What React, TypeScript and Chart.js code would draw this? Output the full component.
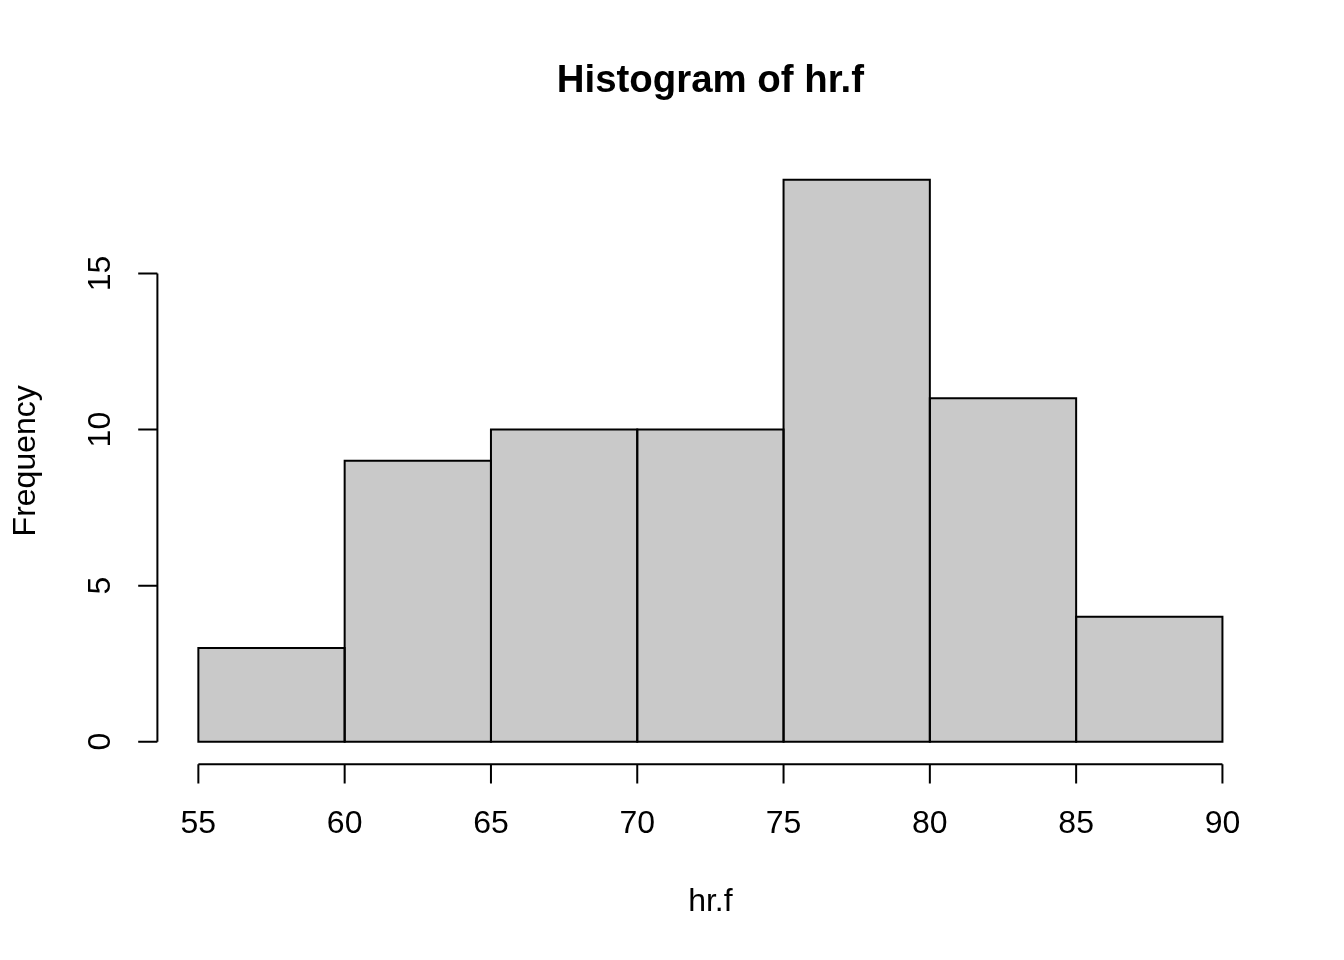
import React, { useEffect, useRef } from "react";
import { Chart, registerables } from "chart.js";

Chart.register(...registerables);

const binEdges: number[] = [55, 60, 65, 70, 75, 80, 85, 90];
const counts: number[] = [3, 9, 10, 10, 18, 11, 4];
const xTicks: number[] = [55, 60, 65, 70, 75, 80, 85, 90];
const yTicks: number[] = [0, 5, 10, 15];
const titleText = "Histogram of hr.f";
const xLabel = "hr.f";
const yLabel = "Frequency";

const FONT = '"Liberation Sans", Arial, Helvetica, sans-serif';

export default function App() {
  const ref = useRef<HTMLCanvasElement | null>(null);

  useEffect(() => {
    const canvas = ref.current;
    if (!canvas) return;

    const points = counts.map((c, i) => ({ x: (binEdges[i] + binEdges[i + 1]) / 2, y: c }));
    const xMin = binEdges[0];
    const xMax = binEdges[binEdges.length - 1];
    const xPad = (xMax - xMin) * 0.04;
    const yMaxData = Math.max(...counts);
    const yPad = yMaxData * 0.04;

    const rPlugin = {
      id: "rstyle",
      afterDatasetsDraw(chart: any) {
        const ctx = chart.ctx as CanvasRenderingContext2D;
        const xs = chart.scales.x;
        const ys = chart.scales.y;
        const area = chart.chartArea;
        ctx.save();
        ctx.strokeStyle = "#000";
        ctx.lineWidth = 2;
        // bar outlines
        const meta = chart.getDatasetMeta(0);
        meta.data.forEach((el: any) => {
          const half = el.width / 2;
          const l = el.x - half;
          const r = el.x + half;
          const top = el.y;
          const base = el.base;
          ctx.beginPath();
          ctx.rect(l, top, r - l, base - top);
          ctx.stroke();
        });
        // x axis
        const axY = area.bottom;
        const tickLen = 19.2;
        ctx.beginPath();
        ctx.moveTo(xs.getPixelForValue(xTicks[0]), axY);
        ctx.lineTo(xs.getPixelForValue(xTicks[xTicks.length - 1]), axY);
        xTicks.forEach((t) => {
          const px = xs.getPixelForValue(t);
          ctx.moveTo(px, axY);
          ctx.lineTo(px, axY + tickLen);
        });
        ctx.stroke();
        // y axis
        const axX = area.left;
        ctx.beginPath();
        ctx.moveTo(axX, ys.getPixelForValue(yTicks[0]));
        ctx.lineTo(axX, ys.getPixelForValue(yTicks[yTicks.length - 1]));
        yTicks.forEach((t) => {
          const py = ys.getPixelForValue(t);
          ctx.moveTo(axX, py);
          ctx.lineTo(axX - tickLen, py);
        });
        ctx.stroke();

        ctx.fillStyle = "#000";
        ctx.font = `32px ${FONT}`;
        ctx.textAlign = "center";
        ctx.textBaseline = "alphabetic";
        xTicks.forEach((t) => {
          ctx.fillText(String(t), xs.getPixelForValue(t), 833);
        });
        yTicks.forEach((t) => {
          const py = ys.getPixelForValue(t);
          ctx.save();
          ctx.translate(110, py);
          ctx.rotate(-Math.PI / 2);
          ctx.fillText(String(t), 0, 0);
          ctx.restore();
        });
        // axis titles
        const cx = (area.left + area.right) / 2;
        const cy = (area.top + area.bottom) / 2;
        ctx.fillText(xLabel, cx, 911);
        ctx.save();
        ctx.translate(35, cy);
        ctx.rotate(-Math.PI / 2);
        ctx.fillText(yLabel, 0, 0);
        ctx.restore();
        // main title
        ctx.font = `bold 38.4px ${FONT}`;
        ctx.fillText(titleText, cx, 92);
        ctx.restore();
      },
    };

    const chart = new Chart(canvas, {
      type: "bar",
      data: {
        datasets: [
          {
            data: points as any,
            backgroundColor: "#c9c9c9",
            borderWidth: 0,
            barPercentage: 1,
            categoryPercentage: 1,
          },
        ],
      },
      options: {
        responsive: false,
        animation: false,
        devicePixelRatio: 1,
        layout: { padding: { left: 157.4, right: 80.6, top: 157.4, bottom: 195.8 } },
        plugins: { legend: { display: false }, tooltip: { enabled: false }, title: { display: false } },
        scales: {
          x: { type: "linear", min: xMin - xPad, max: xMax + xPad, display: false, offset: false },
          y: { type: "linear", min: -yPad, max: yMaxData + yPad, display: false },
        },
      },
      plugins: [rPlugin],
    });
    return () => chart.destroy();
  }, []);

  return (
    <div style={{ position: "absolute", left: 0, top: 0, width: 1344, height: 960, background: "#fff" }}>
      <canvas ref={ref} width={1344} height={960} style={{ width: 1344, height: 960, display: "block" }} />
    </div>
  );
}
